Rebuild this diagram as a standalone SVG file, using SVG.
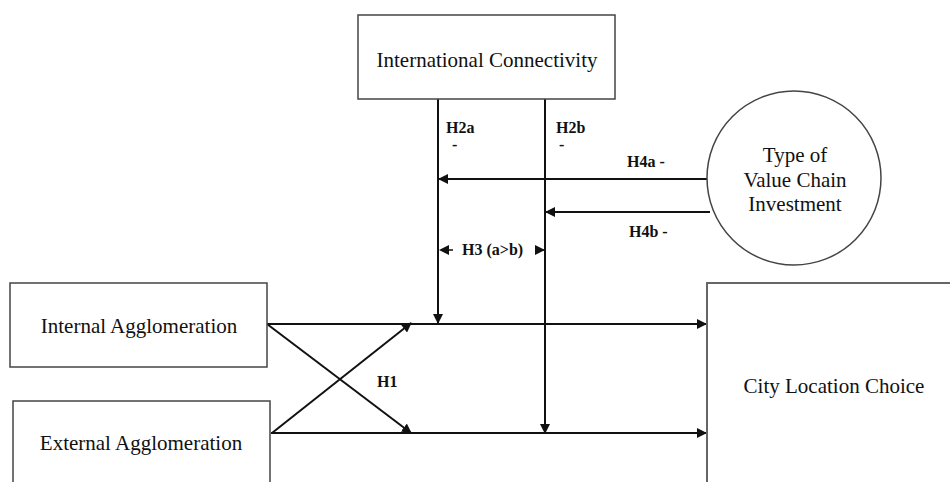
<svg xmlns="http://www.w3.org/2000/svg" width="950" height="482" viewBox="0 0 950 482">
<style>
.box{fill:#fff;stroke:#444;stroke-width:1.5}
.lbl{font-family:"Liberation Serif","Times New Roman",serif;font-size:21px;fill:#111;text-anchor:middle}
.h{font-family:"Liberation Serif","Times New Roman",serif;font-size:16px;font-weight:bold;fill:#111}
.c{stroke:#111;stroke-width:2;fill:none}
.d{stroke:#111;stroke-width:1.5;fill:none;stroke-dasharray:4 3}
</style>
<defs>
<marker id="ah2" viewBox="0 0 10 10" refX="9" refY="5" markerWidth="10" markerHeight="10" orient="auto" markerUnits="userSpaceOnUse">
<path d="M0,0 L10,5 L0,10 z" fill="#111"/>
</marker>
</defs>
<rect width="950" height="482" fill="#fff"/>
<g id="connectors">
<line class="c" x1="438" y1="99" x2="438" y2="323" marker-end="url(#ah2)"/>
<line class="c" x1="545" y1="99" x2="545" y2="433" marker-end="url(#ah2)"/>
<line class="c" x1="708" y1="179" x2="439" y2="179" marker-end="url(#ah2)"/>
<line class="c" x1="710" y1="212" x2="546" y2="212" marker-end="url(#ah2)"/>
<line class="c" x1="267" y1="324" x2="706" y2="324" marker-end="url(#ah2)"/>
<line class="c" x1="271" y1="433" x2="706" y2="433" marker-end="url(#ah2)"/>
<line class="c" x1="267" y1="324" x2="411" y2="433" marker-end="url(#ah2)"/>
<line class="c" x1="272" y1="433" x2="411" y2="323" marker-end="url(#ah2)"/>
<line class="d" x1="453" y1="250" x2="440" y2="250" marker-end="url(#ah2)"/>
<line class="d" x1="535" y1="250" x2="544" y2="250" stroke-dasharray="2 3" marker-end="url(#ah2)"/>
<text class="h" x="446" y="133">H2a</text>
<text class="h" x="452" y="150">-</text>
<text class="h" x="556" y="133">H2b</text>
<text class="h" x="559" y="150">-</text>
<text class="h" x="627" y="167">H4a -</text>
<text class="h" x="629" y="237">H4b -</text>
<text class="h" x="462" y="255">H3 (a&gt;b)</text>
<text class="h" x="377" y="387">H1</text>
</g>
<g id="international-connectivity">
<rect class="box" x="358" y="15" width="257" height="84"/>
<text class="lbl" x="487" y="67">International Connectivity</text>
</g>
<g id="value-chain">
<circle class="box" cx="794" cy="178" r="87"/>
<text class="lbl" x="795" y="162">Type of</text>
<text class="lbl" x="795" y="187">Value Chain</text>
<text class="lbl" x="795" y="211">Investment</text>
</g>
<g id="internal-agglomeration">
<rect class="box" x="10" y="283" width="257" height="84"/>
<text class="lbl" x="139" y="333">Internal Agglomeration</text>
</g>
<g id="external-agglomeration">
<rect class="box" x="13" y="401" width="257" height="100"/>
<text class="lbl" x="141" y="450">External Agglomeration</text>
</g>
<g id="city-location-choice">
<rect class="box" x="707" y="283" width="260" height="220" style="stroke:#666;stroke-width:2"/>
<text class="lbl" x="834" y="393">City Location Choice</text>
</g>
</svg>
